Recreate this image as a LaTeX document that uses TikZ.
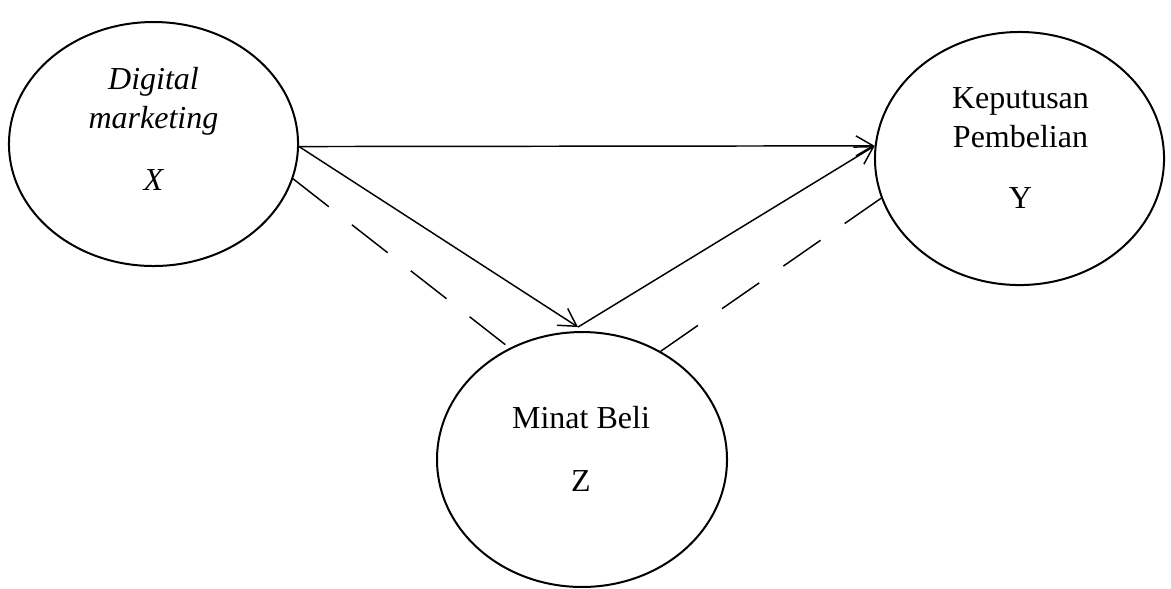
\documentclass[tikz,border=0pt]{standalone}
\usepackage{fontspec}
\setmainfont{Liberation Serif}
\usetikzlibrary{arrows.meta,calc,shapes.geometric}
\begin{document}
\begin{tikzpicture}[x=0.375pt,y=-0.375pt,
  var/.style={draw,ellipse,line width=0.75pt,inner sep=0pt},
  txt/.style={anchor=base,inner sep=0pt,font=\fontsize{12pt}{14pt}\selectfont},
  conn/.style={line width=0.55pt},
  arr/.style={conn,-{Straight Barb[length=6.5pt,width=7.5pt,line width=0.55pt]}},
  dsh/.style={conn,dash pattern=on 17pt off 11pt}]
\useasboundingbox (0,0) rectangle (1171,588);
\node[var,minimum width=108.4pt,minimum height=91.5pt] (X) at (153.5,144) {};
\node[var,minimum width=108.4pt,minimum height=94.9pt] (Y) at (1019.5,158.5) {};
\node[var,minimum width=108.75pt,minimum height=95.6pt] (Z) at (582,459.5) {};
\node[txt] (x1) at (153.5,89) {\itshape Digital};
\node[txt] (x2) at (153.5,128) {\itshape marketing};
\node[txt] (x3) at (153.5,190) {\itshape X};
\node[txt] (y1) at (1020.5,108) {Keputusan};
\node[txt] (y2) at (1020.5,147) {Pembelian};
\node[txt] (y3) at (1020.5,208) {Y};
\node[txt] (z1) at (581,428) {Minat Beli};
\node[txt] (z2) at (581,491) {Z};
\coordinate (zt) at ($(Z.north)+(-4,-4)$);
\draw[arr] (X.-1.2) -- (Y.175.8);
\draw[arr] (X.-1.2) -- (zt);
\draw[arr] (zt) -- (Y.175.8);
\draw[dsh] (X.-14.5) -- (Z.123.1);
\draw[dsh] (Z.54) -- (Y.-164.7);
\end{tikzpicture}
\end{document}
